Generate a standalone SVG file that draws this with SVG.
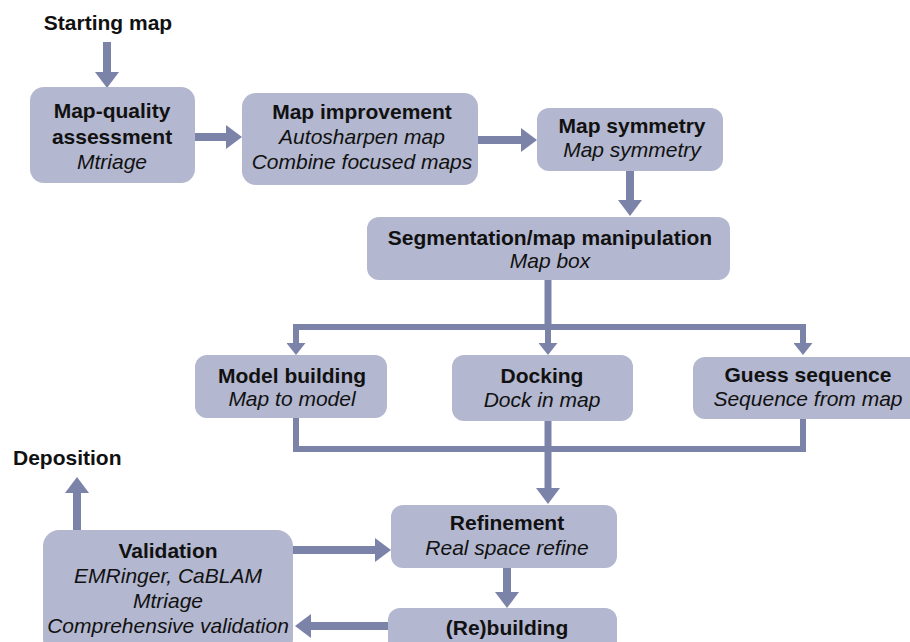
<svg xmlns="http://www.w3.org/2000/svg" width="910" height="642" viewBox="0 0 910 642">
<style>
  .box { fill: #b3b7cf; }
  .t { font-family: "Liberation Sans", Arial, sans-serif; font-size: 21px; fill: #111; text-anchor: middle; }
  .b { font-weight: bold; }
  .i { font-style: italic; }
  .c { fill: none; stroke: #7c83a9; stroke-linejoin: miter; }
  .w8 { stroke-width: 8; }
  .w6 { stroke-width: 6; }
</style>
<defs>
  <marker id="ah" markerUnits="userSpaceOnUse" markerWidth="16" markerHeight="24" refX="0" refY="12" orient="auto">
    <path d="M0,0 L16,12 L0,24 z" fill="#7c83a9"/>
  </marker>
  <marker id="as" markerUnits="userSpaceOnUse" markerWidth="12" markerHeight="19" refX="0" refY="9.5" orient="auto">
    <path d="M0,0 L12,9.5 L0,19 z" fill="#7c83a9"/>
  </marker>
</defs>
<rect width="910" height="642" fill="#ffffff"/>

<g id="connectors">
  <path class="c w8" d="M107,42 V72" marker-end="url(#ah)"/>
  <path class="c w8" d="M195,137 H226" marker-end="url(#ah)"/>
  <path class="c w8" d="M478,140 H521" marker-end="url(#ah)"/>
  <path class="c w8" d="M630,171 V200" marker-end="url(#ah)"/>
  <path class="c" stroke-width="7" d="M548,280 V330"/>
  <path class="c w6" d="M296,342 V327 H803 V342"/>
  <path class="c w6" d="M296,342 V343" marker-end="url(#as)"/>
  <path class="c w6" d="M548,328 V343" marker-end="url(#as)"/>
  <path class="c w6" d="M803,342 V343" marker-end="url(#as)"/>
  <path class="c w6" d="M296,418 V449 H803 V419"/>
  <path class="c" stroke-width="7" d="M548,421 V488" marker-end="url(#ah)"/>
  <path class="c w8" d="M507,568 V592" marker-end="url(#ah)"/>
  <path class="c w8" d="M388,626 H311" marker-end="url(#ah)"/>
  <path class="c w8" d="M293,550 H375" marker-end="url(#ah)"/>
  <path class="c w8" d="M77,530 V493" marker-end="url(#ah)"/>
</g>

<g id="starting-map">
  <text class="t b" x="108" y="30">Starting map</text>
</g>
<g id="deposition">
  <text class="t b" x="13" y="465" style="text-anchor:start">Deposition</text>
</g>

<g id="map-quality">
  <rect class="box" x="30" y="87" width="165" height="96" rx="14"/>
  <text class="t b" x="112" y="118">Map-quality</text>
  <text class="t b" x="112" y="144">assessment</text>
  <text class="t i" x="112" y="169">Mtriage</text>
</g>
<g id="map-improvement">
  <rect class="box" x="242" y="93" width="236" height="92" rx="14"/>
  <text class="t b" x="362" y="119">Map improvement</text>
  <text class="t i" x="362" y="144">Autosharpen map</text>
  <text class="t i" x="362" y="169">Combine focused maps</text>
</g>
<g id="map-symmetry">
  <rect class="box" x="537" y="108" width="186" height="63" rx="12"/>
  <text class="t b" x="632" y="133">Map symmetry</text>
  <text class="t i" x="632" y="157">Map symmetry</text>
</g>
<g id="segmentation">
  <rect class="box" x="367" y="217" width="363" height="63" rx="12"/>
  <text class="t b" x="550" y="245">Segmentation/map manipulation</text>
  <text class="t i" x="550" y="268">Map box</text>
</g>
<g id="model-building">
  <rect class="box" x="195" y="355" width="192" height="63" rx="12"/>
  <text class="t b" x="292" y="383">Model building</text>
  <text class="t i" x="292" y="406">Map to model</text>
</g>
<g id="docking">
  <rect class="box" x="452" y="355" width="181" height="66" rx="12"/>
  <text class="t b" x="542" y="383">Docking</text>
  <text class="t i" x="542" y="407">Dock in map</text>
</g>
<g id="guess-sequence">
  <rect class="box" x="693" y="357" width="230" height="62" rx="12"/>
  <text class="t b" x="808" y="382">Guess sequence</text>
  <text class="t i" x="808" y="406">Sequence from map</text>
</g>
<g id="refinement">
  <rect class="box" x="391" y="505" width="226" height="63" rx="12"/>
  <text class="t b" x="507" y="530">Refinement</text>
  <text class="t i" x="507" y="555">Real space refine</text>
</g>
<g id="rebuilding">
  <rect class="box" x="388" y="608" width="229" height="50" rx="12"/>
  <text class="t b" x="507" y="635">(Re)building</text>
</g>
<g id="validation">
  <rect class="box" x="43" y="530" width="250" height="125" rx="16"/>
  <text class="t b" x="168" y="558">Validation</text>
  <text class="t i" x="168" y="583">EMRinger, CaBLAM</text>
  <text class="t i" x="168" y="608">Mtriage</text>
  <text class="t i" x="168" y="633">Comprehensive validation</text>
</g>
</svg>
